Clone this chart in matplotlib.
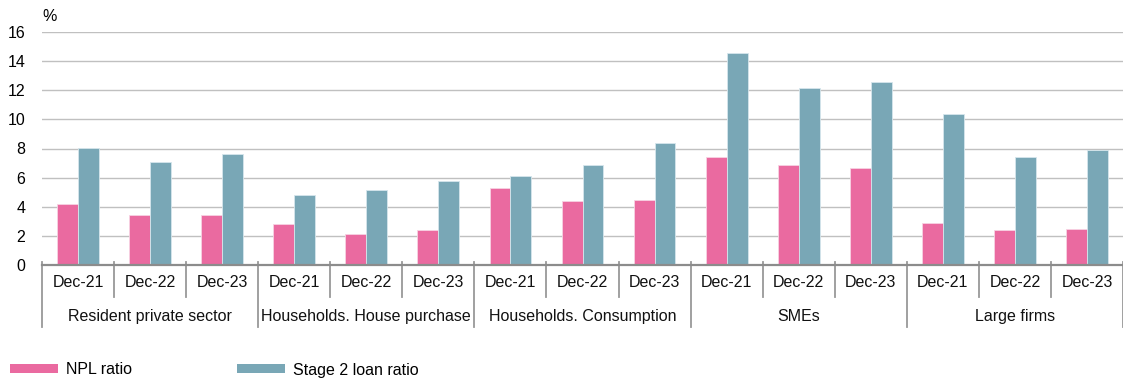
import matplotlib
matplotlib.use("Agg")
import matplotlib.pyplot as plt
from matplotlib.patches import Patch
import numpy as np

plt.rcParams['font.family'] = ['Liberation Sans', 'DejaVu Sans']

groups = ["Resident private sector", "Households. House purchase",
          "Households. Consumption", "SMEs", "Large firms"]
periods = ["Dec-21", "Dec-22", "Dec-23"]
npl_ratio = [4.2, 3.45, 3.45,
             2.8, 2.15, 2.4,
             5.3, 4.4, 4.45,
             7.4, 6.85, 6.65,
             2.85, 2.4, 2.45]
stage2_ratio = [8.05, 7.1, 7.6,
                4.8, 5.15, 5.75,
                6.1, 6.9, 8.4,
                14.55, 12.15, 12.6,
                10.4, 7.45, 7.9]
yticks = [0, 2, 4, 6, 8, 10, 12, 14, 16]

pink = "#EA6AA0"
teal = "#79A7B6"
fs = 11.5

fig = plt.figure(figsize=(11.23, 3.81), dpi=100)
ax = fig.add_axes([42/1123, 116/381, 1 - 42/1123, 233/381])

n = len(npl_ratio)
x = np.arange(n)
w = 0.29
ax.bar(x - w/2, npl_ratio, width=w, color=pink, edgecolor="#f7d3e3", linewidth=0.6, zorder=3)
ax.bar(x + w/2, stage2_ratio, width=w, color=teal, edgecolor="#d6e6ec", linewidth=0.6, zorder=3)

ax.set_xlim(-0.5, n - 0.5)
ax.set_ylim(0, 16)
ax.set_yticks(yticks)
ax.set_yticklabels([str(v) for v in yticks], fontsize=fs)
ax.tick_params(axis='y', length=0, pad=12)
ax.set_xticks([])
ax.grid(axis='y', color="#C0C0C0", linewidth=1.0, zorder=0)
for s in ["top", "right", "left"]:
    ax.spines[s].set_visible(False)
ax.spines["bottom"].set_color("#8C8C8C")
ax.spines["bottom"].set_linewidth(1.6)
ax.spines["bottom"].set_zorder(4)

tr = ax.get_xaxis_transform()
for i in range(n):
    ax.text(i, -0.073, periods[i % 3], transform=tr, ha='center', va='center',
            fontsize=fs, color="#111111")
for i in range(n + 1):
    b = i - 0.5
    if i % 3 == 0:
        ax.plot([b, b], [0.015, -0.268], transform=tr, color="#999999", lw=1.3, clip_on=False)
    else:
        ax.plot([b, b], [0.015, -0.137], transform=tr, color="#999999", lw=1.3, clip_on=False)
for g, name in enumerate(groups):
    ax.text(3*g + 1, -0.223, name, transform=tr, ha='center', va='center',
            fontsize=fs, color="#111111")

ax.text(0.0, 1.065, "%", transform=ax.transAxes, ha='left', va='center', fontsize=fs)

handles = [Patch(facecolor=pink, edgecolor='none', label="NPL ratio"),
           Patch(facecolor=teal, edgecolor='none', label="Stage 2 loan ratio")]
fig.legend(handles=handles, loc='center left', bbox_to_anchor=(5/1123, 11/381), ncol=2,
           frameon=False, fontsize=fs, handlelength=3.0, handleheight=0.5,
           handletextpad=0.5, columnspacing=6.6, borderaxespad=0, borderpad=0.3)

fig.savefig("out.png", dpi=100)
